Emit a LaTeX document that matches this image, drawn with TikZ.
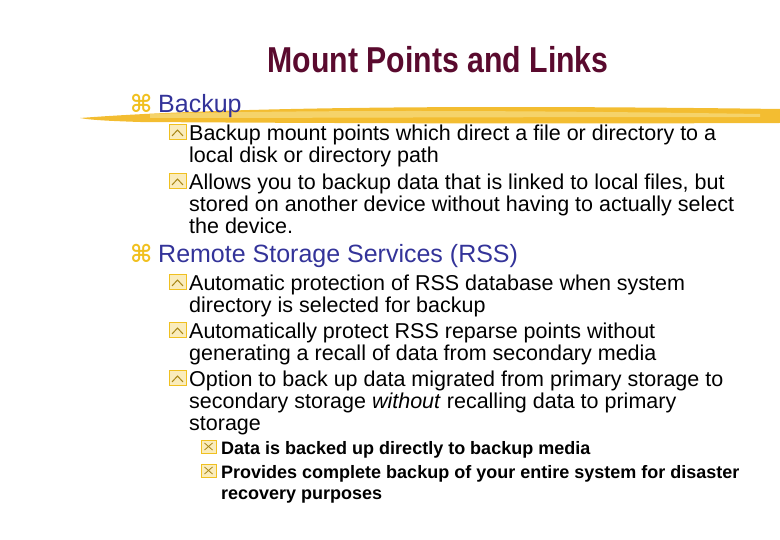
\documentclass[tikz,border=0pt]{standalone}
\usepackage{fontspec}
\setmainfont{Liberation Sans}
\newfontfamily\djv{DejaVu Sans}
\definecolor{ttl}{HTML}{5A0A2E}
\definecolor{lone}{HTML}{333399}
\definecolor{ylw}{HTML}{F0C020}
\begin{document}
\begin{tikzpicture}[x=1pt,y=-1pt,
  lA/.style={anchor=base west,inner sep=0,font=\fontsize{25}{25}\selectfont,text=lone},
  lB/.style={anchor=base west,inner sep=0,font=\fontsize{21.5}{21.5}\selectfont},
  lC/.style={anchor=base west,inner sep=0,font=\fontsize{18}{18}\selectfont\bfseries},
  symA/.style={anchor=base west,inner sep=0,font=\djv\bfseries\fontsize{24}{24}\selectfont,text=ylw}]
\useasboundingbox (0,0) rectangle (780,540);
% brush stroke
\fill[ylw!85!orange,opacity=0.9] (80,118) .. controls (200,109) and (400,104) .. (780,109)
  -- (780,123) .. controls (500,124) and (300,123) .. (140,122) .. controls (110,121) and (90,120) .. (80,118) -- cycle;
\fill[ylw!60!white,opacity=0.8] (150,114) .. controls (300,110) and (500,110) .. (760,114) -- (760,117) .. controls (500,117) and (300,118) .. (150,118) -- cycle;
% title
\node[inner sep=0,text=ttl,font=\fontsize{36}{36}\selectfont\bfseries,xscale=0.84] (title) at (438,60) {Mount Points and Links};
% level 1
\node[symA] (s1) at (130,113) {⌘};
\node[lA] (t1) at (158,113) {Backup};
\node[symA] (s2) at (130,263) {⌘};
\node[lA] (t2) at (158,263) {Remote Storage Services (RSS)};
% level 2 bullets
\foreach \y/\n in {141/b1,190/b2,291/b3,339/b4,387/b5}{
  \draw[ylw,fill=ylw!30,line width=1pt] (169,\y-16) rectangle (186,\y-1);
  \draw[ylw!70!black,line width=1pt] (172,\y-5) -- (177.5,\y-11) -- (183,\y-5);
}
\node[lB] (a1) at (189,141) {Backup mount points which direct a file or directory to a};
\node[lB] (a1b) at (189,163) {local disk or directory path};
\node[lB] (a2) at (189,190) {Allows you to backup data that is linked to local files, but};
\node[lB] (a2b) at (189,212) {stored on another device without having to actually select};
\node[lB] (a2c) at (189,234) {the device.};
\node[lB] (a3) at (189,291) {Automatic protection of RSS database when system};
\node[lB] (a3b) at (189,313) {directory is selected for backup};
\node[lB] (a4) at (189,339) {Automatically protect RSS reparse points without};
\node[lB] (a4b) at (189,361) {generating a recall of data from secondary media};
\node[lB] (a5) at (189,387) {Option to back up data migrated from primary storage to};
\node[lB] (a5b) at (189,409) {secondary storage \textit{without} recalling data to primary};
\node[lB] (a5c) at (189,431) {storage};
% level 3 bullets
\foreach \y in {454,478}{
  \draw[ylw,fill=ylw!30,line width=1pt] (201,\y-14) rectangle (216,\y-1);
  \draw[ylw!70!black,line width=0.8pt] (204.5,\y-11) -- (212.5,\y-4) (204.5,\y-4) -- (212.5,\y-11);
}
\node[lC] (c1) at (221,454) {Data is backed up directly to backup media};
\node[lC] (c2) at (221,478) {Provides complete backup of your entire system for disaster};
\node[lC] (c2b) at (221,499) {recovery purposes};
\end{tikzpicture}
\end{document}
